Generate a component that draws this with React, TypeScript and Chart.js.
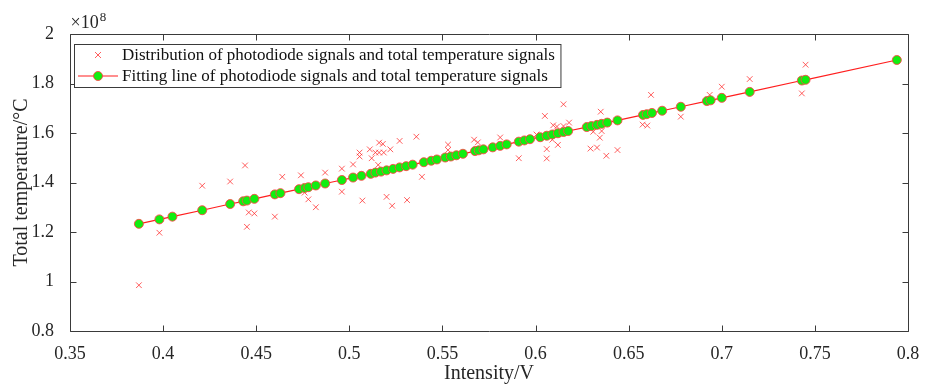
import React, { useEffect, useRef } from "react";
import { Chart, registerables } from "chart.js";

Chart.register(...registerables);

// ---- data (Total temperature in units of 1e8 °C) ----
const scatterX = [0.387,0.398,0.405,0.421,0.436,0.444,0.445,0.446,0.449,0.460,0.464,0.474,0.476,0.478,0.482,0.487,0.496,0.496,0.502,0.5055,0.5055,0.507,0.511,0.512,0.514,0.516,0.518,0.516,0.5185,0.5155,0.522,0.527,0.520,0.523,0.531,0.536,0.539,0.553,0.553,0.567,0.569,0.581,0.591,0.605,0.606,0.606,0.612,0.615,0.6095,0.6115,0.615,0.618,0.6005,0.609,0.635,0.631,0.6355,0.6345,0.6295,0.633,0.638,0.644,0.662,0.6575,0.660,0.678,0.6935,0.700,0.715,0.745,0.743,0.794];
const scatterY = [0.985,1.197,1.262,1.387,1.404,1.469,1.221,1.279,1.275,1.262,1.423,1.429,1.359,1.332,1.300,1.440,1.456,1.363,1.473,1.521,1.505,1.327,1.534,1.498,1.521,1.561,1.556,1.521,1.521,1.471,1.534,1.568,1.342,1.306,1.329,1.585,1.423,1.553,1.531,1.573,1.562,1.582,1.498,1.669,1.535,1.497,1.552,1.716,1.631,1.626,1.628,1.642,1.594,1.573,1.686,1.605,1.608,1.581,1.537,1.541,1.508,1.531,1.754,1.634,1.630,1.666,1.754,1.787,1.818,1.876,1.760,1.895];

const fitX = [0.387,0.398,0.405,0.421,0.436,0.443,0.445,0.449,0.460,0.463,0.473,0.476,0.478,0.482,0.487,0.496,0.502,0.5065,0.5115,0.514,0.517,0.520,0.5235,0.527,0.5305,0.534,0.540,0.544,0.547,0.5515,0.5545,0.5575,0.561,0.5675,0.5695,0.572,0.577,0.581,0.5845,0.591,0.594,0.597,0.6025,0.606,0.609,0.612,0.615,0.6175,0.6275,0.630,0.633,0.6355,0.6385,0.644,0.6577,0.6597,0.6625,0.668,0.678,0.692,0.694,0.700,0.715,0.743,0.745,0.794];
const fitY = [1.233,1.251,1.262,1.288,1.313,1.324,1.327,1.334,1.352,1.357,1.373,1.378,1.381,1.388,1.396,1.410,1.420,1.427,1.435,1.440,1.444,1.449,1.455,1.461,1.466,1.472,1.482,1.488,1.493,1.501,1.505,1.510,1.516,1.527,1.530,1.534,1.542,1.548,1.554,1.565,1.570,1.575,1.583,1.589,1.594,1.599,1.604,1.608,1.624,1.628,1.633,1.637,1.642,1.651,1.673,1.676,1.681,1.690,1.706,1.729,1.732,1.742,1.766,1.812,1.815,1.895];

const xTickLabels = ["0.35","0.4","0.45","0.5","0.55","0.6","0.65","0.7","0.75","0.8"];
const yTickLabels = ["0.8","1","1.2","1.4","1.6","1.8","2"];
const seriesNames = [
  "Distribution of photodiode signals and total temperature signals",
  "Fitting line of photodiode signals and total temperature signals",
];
const xTitle = "Intensity/V";
const yTitle = "Total temperature/°C";
const exponent = "8";

const SERIF = "'Liberation Serif', 'DejaVu Serif', serif";
const AXIS = "#3a3a3a";
const CROSS = "rgba(255,40,40,0.75)";
const LINE = "rgb(255,30,30)";
const GREEN = "#11ee11";

const framePlugin = {
  id: "frame",
  afterDatasetsDraw(chart: any) {
    const { ctx, chartArea: a, scales } = chart;
    const xs = scales.x, ys = scales.y;
    ctx.save();
    ctx.strokeStyle = AXIS;
    ctx.lineWidth = 1;
    ctx.beginPath();
    const L = Math.round(a.left) + 0.5, R = Math.round(a.right) + 0.5;
    const T = Math.round(a.top) + 0.5, B = Math.round(a.bottom) + 0.5;
    ctx.rect(L, T, R - L, B - T);
    const tl = 6;
    xs.ticks.forEach((t: any) => {
      const p = Math.round(xs.getPixelForValue(t.value)) + 0.5;
      ctx.moveTo(p, B); ctx.lineTo(p, B - tl);
      ctx.moveTo(p, T); ctx.lineTo(p, T + tl);
    });
    ys.ticks.forEach((t: any) => {
      const p = Math.round(ys.getPixelForValue(t.value)) + 0.5;
      ctx.moveTo(L, p); ctx.lineTo(L + tl, p);
      ctx.moveTo(R, p); ctx.lineTo(R - tl, p);
    });
    ctx.stroke();

    // exponent label
    ctx.fillStyle = "#262626";
    ctx.textBaseline = "alphabetic";
    ctx.textAlign = "left";
    ctx.font = `18px ${SERIF}`;
    const base = "\u00d710";
    ctx.fillText(base, L, 28);
    const bw = ctx.measureText(base).width;
    ctx.font = `13px ${SERIF}`;
    ctx.fillText(exponent, L + bw + 1, 21);

    // legend
    ctx.font = `17px ${SERIF}`;
    const textX = 122;
    const w = Math.max(...seriesNames.map((s) => ctx.measureText(s).width));
    const bx = 74.5, by = 44.5, bh = 43, bwid = textX + w + 6 - bx;
    ctx.fillStyle = "#fff";
    ctx.fillRect(bx, by, bwid, bh);
    ctx.strokeStyle = AXIS;
    ctx.strokeRect(bx, by, bwid, bh);
    const r1 = 55, r2 = 76, mx = 98;
    // cross marker
    ctx.strokeStyle = CROSS;
    ctx.beginPath();
    ctx.moveTo(mx - 3, r1 - 3); ctx.lineTo(mx + 3, r1 + 3);
    ctx.moveTo(mx + 3, r1 - 3); ctx.lineTo(mx - 3, r1 + 3);
    ctx.stroke();
    // line + circle marker
    ctx.strokeStyle = LINE;
    ctx.lineWidth = 1.2;
    ctx.beginPath();
    ctx.moveTo(78, r2); ctx.lineTo(118, r2);
    ctx.stroke();
    ctx.beginPath();
    ctx.arc(mx, r2, 4.5, 0, Math.PI * 2);
    ctx.fillStyle = GREEN;
    ctx.fill();
    ctx.lineWidth = 1;
    ctx.strokeStyle = "rgba(255,70,70,0.9)";
    ctx.stroke();
    ctx.fillStyle = "#111";
    ctx.textBaseline = "middle";
    ctx.fillText(seriesNames[0], textX, r1 + 1);
    ctx.fillText(seriesNames[1], textX, r2 + 1);
    ctx.restore();
  },
};

export default function App() {
  const ref = useRef<HTMLCanvasElement | null>(null);
  useEffect(() => {
    if (!ref.current) return;
    const chart = new Chart(ref.current, {
      type: "scatter",
      data: {
        datasets: [
          {
            label: seriesNames[1],
            data: fitX.map((x, i) => ({ x, y: fitY[i] })),
            showLine: true,
            borderColor: LINE,
            borderWidth: 1.2,
            pointStyle: "circle",
            pointRadius: 4.5,
            pointBackgroundColor: GREEN,
            pointBorderColor: "rgba(255,70,70,0.9)",
            pointBorderWidth: 1,
            order: 0,
          },
          {
            label: seriesNames[0],
            data: scatterX.map((x, i) => ({ x, y: scatterY[i] })),
            showLine: false,
            pointStyle: "crossRot",
            pointRadius: 4,
            borderColor: CROSS,
            pointBorderColor: CROSS,
            pointBorderWidth: 1,
            order: 1,
          },
        ],
      },
      options: {
        animation: false,
        responsive: false,
        maintainAspectRatio: false,
        layout: { padding: { top: 34, right: 26, left: 0, bottom: 0 } },
        plugins: { legend: { display: false }, tooltip: { enabled: false } },
        scales: {
          x: {
            type: "linear",
            min: 0.35,
            max: 0.8,
            grid: { display: false },
            border: { display: false },
            ticks: {
              stepSize: 0.05,
              padding: 4,
              color: "#262626",
              font: { family: SERIF, size: 18 },
              maxRotation: 0,
              callback: (_v: any, i: number) => xTickLabels[i],
            },
            title: {
              display: true,
              text: xTitle,
              color: "#262626",
              font: { family: SERIF, size: 20 },
              padding: { top: 0, bottom: 0 },
            },
            afterFit: (s: any) => { s.height = 55; },
          },
          y: {
            type: "linear",
            min: 0.8,
            max: 2,
            grid: { display: false },
            border: { display: false },
            ticks: {
              stepSize: 0.2,
              padding: 8,
              color: "#262626",
              font: { family: SERIF, size: 18 },
              callback: (_v: any, i: number) => yTickLabels[i],
            },
            title: {
              display: true,
              text: yTitle,
              color: "#262626",
              font: { family: SERIF, size: 20 },
              padding: { top: 10, bottom: 0 },
            },
            afterFit: (s: any) => { s.width = 70; },
          },
        },
      },
      plugins: [framePlugin],
    } as any);
    return () => chart.destroy();
  }, []);
  return (
    <div style={{ position: "absolute", left: 0, top: 0, width: 934, height: 386, background: "#fff" }}>
      <canvas ref={ref} width={934} height={386} style={{ width: 934, height: 386, display: "block" }} />
    </div>
  );
}
